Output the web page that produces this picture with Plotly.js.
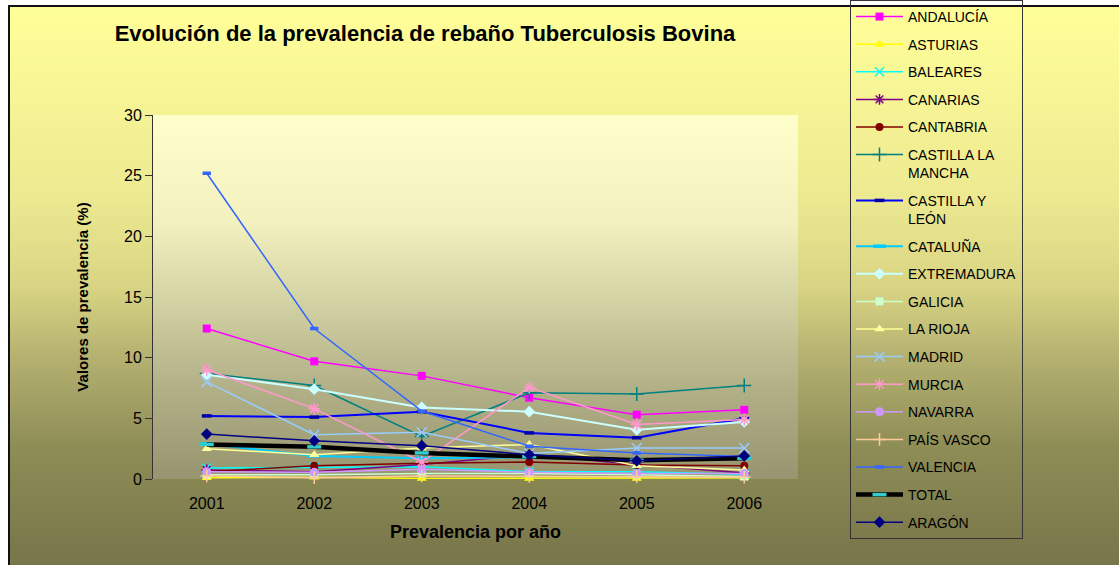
<!DOCTYPE html>
<html>
<head>
<meta charset="utf-8">
<script src="https://cdn.plot.ly/plotly-3.0.1.min.js"></script>
<style>
  html, body { margin: 0; padding: 0; background: #ffffff; width: 1119px; height: 565px; overflow: hidden; }
  #bg { position: absolute; left: 8px; top: 5px; width: 1200px; height: 600px; border-top: 2px solid #111; border-left: 2px solid #111;
        background: linear-gradient(to bottom, #FFFF99 0px, #EDE991 190px, #D8D483 280px, #B2AF6F 355px, #8E8D56 440px, #77754A 560px); }
  #pa { position: absolute; left: 153px; top: 115px; width: 645px; height: 364px;
        background: linear-gradient(to bottom, #FFFFCC 0%, #F2F0BE 30%, #D2D1A3 52%, #B1B087 75%, #96956F 100%); }
  #chart { position: absolute; left: 0; top: 0; width: 1119px; height: 565px; }
</style>
</head>
<body>
<div id="bg"></div>
<div id="pa"></div>
<div id="chart"></div>
<script>
const years = ['2001', '2002', '2003', '2004', '2005', '2006'];
const seriesNames = ['ANDALUCÍA', 'ASTURIAS', 'BALEARES', 'CANARIAS', 'CANTABRIA', 'CASTILLA LA<br>MANCHA',
  'CASTILLA Y<br>LEÓN', 'CATALUÑA', 'EXTREMADURA', 'GALICIA', 'LA RIOJA', 'MADRID', 'MURCIA', 'NAVARRA',
  'PAÍS VASCO', 'VALENCIA', 'TOTAL', 'ARAGÓN'];
const andalucia = [12.4, 9.7, 8.5, 6.7, 5.3, 5.7];
const asturias = [0.1, 0.15, 0.05, 0.05, 0.05, 0.1];
const baleares = [0.9, 0.95, 1.0, 0.6, 0.6, 0.4];
const canarias = [0.75, 0.6, 1.2, 2.0, 1.2, 0.5];
const cantabria = [0.6, 1.1, 1.3, 1.4, 1.15, 1.1];
const castillaLaMancha = [8.7, 7.7, 3.5, 7.1, 7.0, 7.7];
const castillaLeon = [5.2, 5.1, 5.55, 3.8, 3.4, 5.0];
const cataluna = [2.9, 1.9, 1.7, 1.8, 1.6, 1.8];
const extremadura = [8.6, 7.4, 5.9, 5.55, 4.05, 4.7];
const galicia = [0.35, 0.35, 0.45, 0.45, 0.35, 0.2];
const laRioja = [2.5, 2.0, 2.55, 2.85, 1.1, 0.75];
const madrid = [8.0, 3.65, 3.85, 2.1, 2.55, 2.55];
const murcia = [9.0, 5.8, 1.4, 7.55, 4.5, 4.9];
const navarra = [0.6, 0.55, 0.8, 0.55, 0.45, 0.45];
const paisVasco = [0.25, 0.1, 0.25, 0.2, 0.2, 0.15];
const valencia = [25.2, 12.4, 5.6, 2.7, 2.15, 1.85];
const total = [2.85, 2.65, 2.15, 1.85, 1.55, 1.7];
const aragon = [3.7, 3.15, 2.75, 2.0, 1.5, 1.9];

const seriesValues = [andalucia, asturias, baleares, canarias, cantabria, castillaLaMancha, castillaLeon,
  cataluna, extremadura, galicia, laRioja, madrid, murcia, navarra, paisVasco, valencia, total, aragon];

// styles: [lineColor, lineWidth, symbol, markerColor, size, open]
const styles = [
  ['#FF00FF', 1.5, 'square', '#FF00FF', 8, false],
  ['#FFFF00', 1.5, 'triangle-up', '#FFFF00', 9, false],
  ['#00FFFF', 1.5, 'x-thin-open', '#00FFFF', 9, true],
  ['#800080', 1.5, 'asterisk-open', '#800080', 9, true],
  ['#800000', 1.5, 'circle', '#800000', 8, false],
  ['#008080', 1.5, 'cross-thin-open', '#008080', 10, true],
  ['#0000FF', 2, 'line-ew-open', '#0000AA', 7, true],
  ['#00CCFF', 2, 'line-ew-open', '#00CCFF', 9, true],
  ['#CCFFFF', 2, 'diamond', '#CCFFFF', 9, false],
  ['#CCFFCC', 1.5, 'square', '#CCFFCC', 8, false],
  ['#FFFF99', 1.5, 'triangle-up', '#FFFF99', 9, false],
  ['#99CCFF', 1.5, 'x-thin-open', '#99CCFF', 10, true],
  ['#FF99CC', 1.5, 'asterisk-open', '#FF99CC', 10, true],
  ['#CC99FF', 1.5, 'circle', '#CC99FF', 9, false],
  ['#FFCC99', 1.5, 'cross-thin-open', '#FFCC99', 9, true],
  ['#3366FF', 1.5, 'line-ew-open', '#3366FF', 6, true],
  ['#000000', 4.5, 'line-ew-open', '#33CCCC', 10, true],
  ['#000080', 1.5, 'diamond', '#000080', 9, false]
];

const font = 'Liberation Sans, Arial, sans-serif';

const traces = seriesNames.map((name, i) => {
  const s = styles[i];
  const marker = { symbol: s[2], size: s[4], color: s[3] };
  if (s[5]) {
    marker.line = { color: s[3], width: (s[2] === 'line-ew-open') ? 3.5 : 1.5 };
  } else {
    marker.line = { width: 0 };
  }
  return {
    type: 'scatter', mode: 'lines+markers', name: name, x: years, y: seriesValues[i],
    line: { color: s[0], width: s[1] }, marker: marker, legendgroup: 'g' + i, cliponaxis: false
  };
});

const W = 1119, H = 565;
const layout = {
  width: W, height: H,
  margin: { l: 0, r: 0, t: 0, b: 0, autoexpand: false },
  paper_bgcolor: 'rgba(0,0,0,0)', plot_bgcolor: 'rgba(0,0,0,0)',
  font: { family: font, color: '#000', size: 15 },
  title: { text: 'Evolución de la prevalencia de rebaño Tuberculosis Bovina', font: { family: font, size: 22, weight: 'bold', color: '#000' },
           xref: 'container', yref: 'container', x: 425 / W, xanchor: 'center', y: 1 - 33 / H, yanchor: 'middle' },
  xaxis: { type: 'category', range: [-0.5, 5.5], domain: [153 / W, 798 / W], showgrid: false, zeroline: false, showline: false, ticks: '',
           tickfont: { family: font, size: 16, color: '#000' }, ticklabelstandoff: 13,
           title: { text: 'Prevalencia por año', font: { family: font, size: 18, weight: 'bold', color: '#000' }, standoff: 14 } },
  yaxis: { range: [0, 30], dtick: 5, domain: [86 / H, 450 / H], showgrid: false, zeroline: false, showline: true, linecolor: '#333', linewidth: 1,
           ticks: 'outside', ticklen: 7, tickcolor: '#333', tickfont: { family: font, size: 16, color: '#000' },
           title: { text: 'Valores de prevalencia (%)', font: { family: font, size: 15, weight: 'bold', color: '#000' }, standoff: 31 } },
  legend: { x: 850 / W, xanchor: 'left', y: 1, yanchor: 'top', bgcolor: 'rgba(0,0,0,0)', bordercolor: '#333', borderwidth: 1,
            font: { family: font, size: 14, color: '#000' }, itemwidth: 47, tracegroupgap: 6.4, valign: 'top', traceorder: 'grouped' },
  showlegend: true
};

Plotly.newPlot('chart', traces, layout, { displayModeBar: false, staticPlot: true });
</script>
</body>
</html>
